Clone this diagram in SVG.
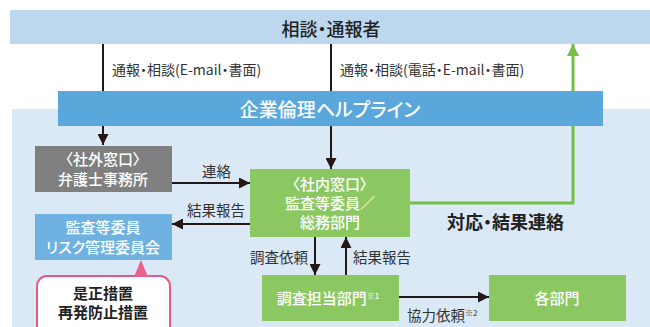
<svg xmlns="http://www.w3.org/2000/svg" width="650" height="327" viewBox="0 0 650 327">
<defs>
<style>
text{font-family:"Noto Sans CJK JP","Noto Sans",sans-serif;font-feature-settings:"palt";}
.w{fill:#fff;font-size:15px;font-weight:500;text-anchor:middle;}
.lbl{fill:#333;font-size:14.5px;}
.top{fill:#333;font-size:14px;}
.ln{stroke:#231815;stroke-width:2;fill:none;}
</style>
<marker id="ah" viewBox="0 0 10 10" refX="10" refY="5" markerWidth="5.5" markerHeight="5.5" markerUnits="strokeWidth" orient="auto">
<path d="M0,0 L10,5 L0,10 Z" fill="#231815"/>
</marker>
<marker id="ag" viewBox="0 0 10 10" refX="10" refY="5" markerWidth="4" markerHeight="4" markerUnits="strokeWidth" orient="auto">
<path d="M0,0 L10,5 L0,10 Z" fill="#72bf44"/>
</marker>
</defs>
<rect x="12" y="109" width="638" height="218" fill="#dbe9f6"/>
<g id="reporter">
<rect x="10" y="10" width="640" height="34" fill="#bdd7ee"/>
<text x="331" y="36" font-size="18" font-weight="500" fill="#222" text-anchor="middle">相談・通報者</text>
</g>
<g id="connectors">
<line class="ln" x1="103" y1="44" x2="103" y2="145" marker-end="url(#ah)"/>
<line class="ln" x1="331" y1="44" x2="331" y2="169" marker-end="url(#ah)"/>
<line class="ln" x1="172" y1="183" x2="250" y2="183" marker-end="url(#ah)"/>
<line class="ln" x1="250" y1="224" x2="172" y2="224" marker-end="url(#ah)"/>
<line class="ln" x1="315" y1="237" x2="315" y2="275" marker-end="url(#ah)"/>
<line class="ln" x1="346" y1="275" x2="346" y2="237" marker-end="url(#ah)"/>
<line class="ln" x1="399" y1="297" x2="489" y2="297" marker-end="url(#ah)"/>
<polyline points="410,203 573,203 573,44" stroke="#72bf44" stroke-width="3" fill="none" marker-end="url(#ag)"/>
<text class="top" x="112" y="75">通報・相談(E-mail・書面)</text>
<text class="top" x="340" y="75">通報・相談(電話・E-mail・書面)</text>
<text class="lbl" x="202" y="177">連絡</text>
<text class="lbl" x="187" y="216">結果報告</text>
<text class="lbl" x="250" y="263">調査依頼</text>
<text class="lbl" x="353" y="263">結果報告</text>
<text class="lbl" x="407" y="321">協力依頼<tspan font-size="8" dy="-5">※2</tspan></text>
<text x="447" y="229" font-size="18" font-weight="bold" fill="#222">対応・結果連絡</text>
</g>
<g id="helpline">
<rect x="58" y="91" width="545" height="35" fill="#5aa7dc"/>
<text x="330" y="117" font-size="19" font-weight="500" fill="#fff" text-anchor="middle">企業倫理ヘルプライン</text>
</g>
<g id="external">
<rect x="35" y="146" width="137" height="46" fill="#7f7f7f"/>
<text class="w" x="103" y="165">〈社外窓口〉</text>
<text class="w" x="103" y="185">弁護士事務所</text>
</g>
<g id="committee">
<rect x="35" y="214" width="137" height="46" fill="#6fb2e2"/>
<text class="w" x="103" y="233">監査等委員</text>
<text class="w" x="103" y="253">リスク管理委員会</text>
</g>
<g id="internal">
<rect x="250" y="169" width="160" height="68" fill="#8cc862"/>
<text class="w" x="330" y="190">〈社内窓口〉</text>
<text class="w" x="330" y="209">監査等委員／</text>
<text class="w" x="330" y="228">総務部門</text>
</g>
<g id="investigation">
<rect x="262" y="275" width="137" height="46" fill="#8cc862"/>
<text class="w" x="328" y="304">調査担当部門<tspan font-size="8" dy="-5">※1</tspan></text>
</g>
<g id="departments">
<rect x="489" y="275" width="137" height="46" fill="#8cc862"/>
<text class="w" x="557" y="304">各部門</text>
</g>
<g id="measures">
<rect x="37" y="276" width="133" height="60" rx="10" fill="#fff" stroke="#e8578b" stroke-width="2"/>
<path d="M134,277 L141,260 L148,277 Z" fill="#ec5f8f"/>
<text x="103" y="299" font-size="15" font-weight="bold" fill="#222" text-anchor="middle">是正措置</text>
<text x="103" y="318" font-size="15" font-weight="bold" fill="#222" text-anchor="middle">再発防止措置</text>
</g>
</svg>
